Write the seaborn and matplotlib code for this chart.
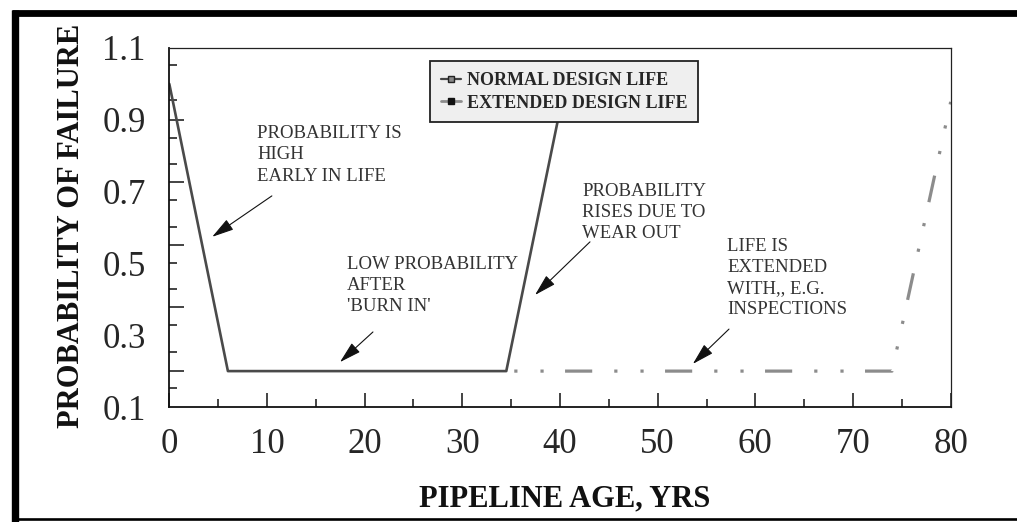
import numpy as np
import pandas as pd
import matplotlib
matplotlib.use('Agg')
import matplotlib.pyplot as plt
import seaborn as sns
from matplotlib.lines import Line2D

# data
normal_age = [0, 6, 34.5, 41]
normal_prob = [1.0, 0.2, 0.2, 1.06]
extended_age = [34.5, 74, 80]
extended_prob = [0.2, 0.2, 0.95]

x_ticks = [0, 10, 20, 30, 40, 50, 60, 70, 80]
y_ticks = [0.1, 0.3, 0.5, 0.7, 0.9, 1.1]
y_long_ticks = [0.2, 0.379, 0.551, 0.727, 0.9]
y_short_ticks = [0.153, 0.253, 0.328, 0.429, 0.501, 0.601, 0.677, 0.777, 0.849, 0.955, 1.053]

notes = [
    ("PROBABILITY IS\nHIGH\nEARLY IN LIFE", (9.0, 0.885), (10.5, 0.688), (4.39, 0.574)),
    ("LOW PROBABILITY\nAFTER\n'BURN IN'", (18.2, 0.522), (20.85, 0.309), (17.47, 0.225)),
    ("PROBABILITY\nRISES DUE TO\nWEAR OUT", (42.25, 0.725), (43.07, 0.56), (37.44, 0.412)),
    ("LIFE IS\nEXTENDED\nWITH,, E.G.\nINSPECTIONS", (57.1, 0.572), (57.3, 0.317), (53.6, 0.22)),
]

normal_df = pd.DataFrame({"age": normal_age, "prob": normal_prob})
extended_df = pd.DataFrame({"age": extended_age, "prob": extended_prob})

sns.set_style("white")
plt.rcParams['font.family'] = ['Liberation Serif', 'DejaVu Serif']

W, H = 1017, 522
fig = plt.figure(figsize=(W / 100, H / 100), dpi=100)
ax = fig.add_axes([169.3 / W, 1 - 407 / H, 781.4 / W, 359 / H])

# dash - dot - dot pattern, roughly 100 px per period
sns.lineplot(data=extended_df, x="age", y="prob", ax=ax, color='#8c8c8c', lw=2.3,
             linestyle=(12.9, (8.5, 6.9, 1, 7.2, 1, 6.7)), legend=False)
sns.lineplot(data=normal_df, x="age", y="prob", ax=ax, color='#4a4a4a', lw=1.9,
             legend=False)

ax.set_xlim(0, 80)
ax.set_ylim(0.1, 1.1)

# x axis ticks (inward, minor every 5)
ax.set_xticks(x_ticks)
ax.set_xticks(np.arange(5, 80, 10), minor=True)
ax.tick_params(axis='x', which='major', direction='in', length=10, width=1.1,
               color='#111111', labelsize=25, pad=15, bottom=True, top=False)
ax.tick_params(axis='x', which='minor', direction='in', length=5.5, width=1.1,
               color='#111111', bottom=True, top=False)

# y axis: labels on major ticks, tick marks placed separately
ax.set_yticks(y_ticks)
ax.set_yticklabels([f"{v:.1f}" for v in y_ticks])
ax.set_yticks(y_short_ticks, minor=True)
ax.tick_params(axis='y', which='major', length=0, labelsize=25, pad=17, left=True)
ax.tick_params(axis='y', which='minor', direction='in', length=6, width=1.1,
               color='#111111', left=True)
sec = ax.secondary_yaxis('left')
sec.set_yticks(y_long_ticks)
sec.set_yticklabels([])
sec.tick_params(axis='y', direction='in', length=11, width=1.1, color='#111111')
sec.spines['left'].set_visible(False)

for side in ['left', 'bottom']:
    ax.spines[side].set_linewidth(1.3)
    ax.spines[side].set_color('#111111')
for side in ['top', 'right']:
    ax.spines[side].set_linewidth(0.9)
    ax.spines[side].set_color('#222222')

ax.set_xlabel("PIPELINE AGE, YRS", fontsize=22, fontweight='bold', color='#111111')
ax.set_ylabel("PROBABILITY OF FAILURE", fontsize=22, fontweight='bold', color='#111111')
ax.xaxis.set_label_coords(0.506, -0.215)
ax.yaxis.set_label_coords(-0.106, 0.504)

for text, pos, tail, head in notes:
    ax.text(pos[0], pos[1], text, fontsize=13.5, color='#333333', ha='left', va='top',
            linespacing=1.32)
    ax.annotate("", xy=head, xytext=tail,
                arrowprops=dict(arrowstyle='-|>,head_length=0.9,head_width=0.25',
                                mutation_scale=15, lw=0.8, color='#111111',
                                shrinkA=0, shrinkB=0))

handles = [
    Line2D([], [], color='#444444', lw=1.6, marker='s', markersize=4.5,
           markerfacecolor='#888888', markeredgecolor='#222222'),
    Line2D([], [], color='#8c8c8c', lw=2.0, marker='s', markersize=4.5,
           markerfacecolor='#111111', markeredgecolor='#111111'),
]
leg = ax.legend(handles, ["NORMAL DESIGN LIFE", "EXTENDED DESIGN LIFE"],
                loc='upper left', bbox_to_anchor=(0.3336, 0.9638), borderaxespad=0,
                prop={'family': 'Liberation Serif', 'weight': 'bold', 'size': 13},
                frameon=True, fancybox=False, shadow=False, framealpha=1,
                facecolor='#efefef', edgecolor='#222222', borderpad=0.6,
                labelspacing=0.32, handlelength=1.1, handletextpad=0.35)
leg.get_frame().set_linewidth(1.3)

# thick outer frame of the original figure
def px_line(x0, y0, x1, y1, lw):
    fig.add_artist(Line2D([x0 / W, x1 / W], [1 - y0 / H, 1 - y1 / H],
                          transform=fig.transFigure, color='black', lw=lw,
                          solid_capstyle='butt'))

px_line(15.3, 10, 15.3, 522, 5.3)
px_line(12, 13.3, 1017, 13.3, 4.9)
px_line(12, 518.7, 1017, 518.7, 1.9)

fig.savefig("out.png", dpi=100)
